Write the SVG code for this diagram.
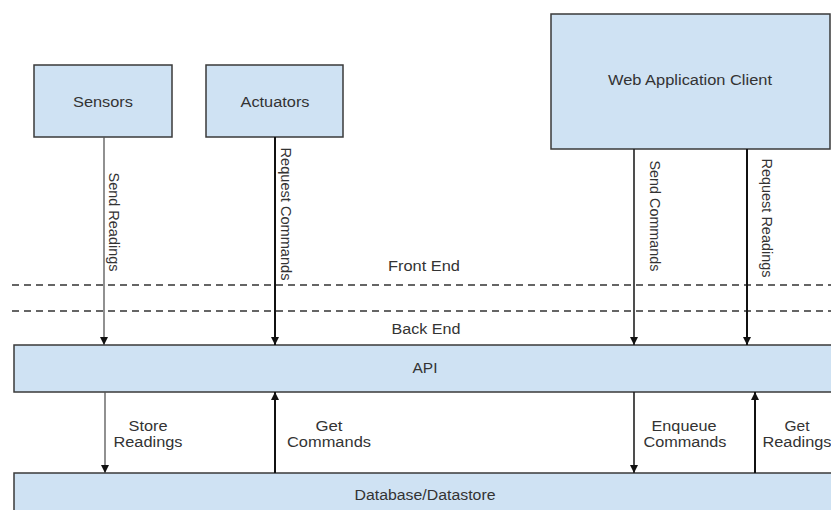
<svg xmlns="http://www.w3.org/2000/svg" width="831" height="510" viewBox="0 0 831 510">
<style>
.box{fill:#cfe2f3;stroke:#3a3a3a;stroke-width:1.5}
.t{font-family:"Liberation Sans",Arial,sans-serif;font-size:14px;fill:#333}
.c{text-anchor:middle}
.thin{stroke:#555;stroke-width:1.3;fill:none}
.thick{stroke:#111;stroke-width:2;fill:none}
.dash{stroke:#333;stroke-width:1.5;stroke-dasharray:7 5;fill:none}
</style>
<defs>
<marker id="ah" viewBox="0 0 8 8" refX="8" refY="4" markerWidth="8" markerHeight="8" markerUnits="userSpaceOnUse" orient="auto">
<path d="M0,0 L8,4 L0,8 z" fill="#111"/>
</marker>
</defs>
<rect width="831" height="510" fill="#fff"/>
<g id="sensors"><rect class="box" x="34" y="65" width="138" height="72"/><text class="t c" x="103" y="107" textLength="60" lengthAdjust="spacingAndGlyphs">Sensors</text></g>
<g id="actuators"><rect class="box" x="206" y="65" width="137" height="72"/><text class="t c" x="275" y="107" textLength="69" lengthAdjust="spacingAndGlyphs">Actuators</text></g>
<g id="webclient"><rect class="box" x="551" y="14" width="279" height="135"/><text class="t c" x="690" y="85" textLength="164" lengthAdjust="spacingAndGlyphs">Web Application Client</text></g>
<g id="boundary">
<line class="dash" x1="12" y1="285" x2="831" y2="285"/>
<line class="dash" x1="12" y1="311" x2="831" y2="311"/>
<text class="t c" x="424" y="271" textLength="72" lengthAdjust="spacingAndGlyphs">Front End</text>
<text class="t c" x="426" y="334" textLength="69" lengthAdjust="spacingAndGlyphs">Back End</text>
</g>
<g id="api"><rect class="box" x="14" y="345" width="830" height="47"/><text class="t c" x="425" y="373" textLength="25" lengthAdjust="spacingAndGlyphs">API</text></g>
<g id="database"><rect class="box" x="14" y="473" width="830" height="50"/><text class="t c" x="425" y="500" textLength="141" lengthAdjust="spacingAndGlyphs">Database/Datastore</text></g>
<g id="connectors">
<line class="thin" x1="104" y1="137" x2="104" y2="345" marker-end="url(#ah)"/>
<line class="thick" x1="275" y1="137" x2="275" y2="345" marker-end="url(#ah)"/>
<line class="thin" x1="634" y1="149" x2="634" y2="345" marker-end="url(#ah)" style="stroke:#222;stroke-width:1.6"/>
<line class="thick" x1="747" y1="149" x2="747" y2="345" marker-end="url(#ah)"/>
<line class="thin" x1="105" y1="392" x2="105" y2="473" marker-end="url(#ah)"/>
<line class="thick" x1="275" y1="473" x2="275" y2="392" marker-end="url(#ah)"/>
<line class="thin" x1="634" y1="392" x2="634" y2="473" marker-end="url(#ah)" style="stroke:#222;stroke-width:1.6"/>
<line class="thick" x1="755" y1="473" x2="755" y2="392" marker-end="url(#ah)"/>
<text class="t c" transform="translate(109,222) rotate(90)" textLength="99" lengthAdjust="spacingAndGlyphs">Send Readings</text>
<text class="t c" transform="translate(281,214) rotate(90)" textLength="133" lengthAdjust="spacingAndGlyphs">Request Commands</text>
<text class="t c" transform="translate(650,216) rotate(90)" textLength="111" lengthAdjust="spacingAndGlyphs">Send Commands</text>
<text class="t c" transform="translate(762,218) rotate(90)" textLength="119" lengthAdjust="spacingAndGlyphs">Request Readings</text>
<text class="t c" x="148" y="431" textLength="39" lengthAdjust="spacingAndGlyphs">Store</text>
<text class="t c" x="148" y="447" textLength="69" lengthAdjust="spacingAndGlyphs">Readings</text>
<text class="t c" x="329" y="431" textLength="27" lengthAdjust="spacingAndGlyphs">Get</text>
<text class="t c" x="329" y="447" textLength="84" lengthAdjust="spacingAndGlyphs">Commands</text>
<text class="t c" x="684" y="431" textLength="65" lengthAdjust="spacingAndGlyphs">Enqueue</text>
<text class="t c" x="685" y="447" textLength="83" lengthAdjust="spacingAndGlyphs">Commands</text>
<text class="t c" x="797" y="431" textLength="25" lengthAdjust="spacingAndGlyphs">Get</text>
<text class="t c" x="797" y="447" textLength="69" lengthAdjust="spacingAndGlyphs">Readings</text>
</g>
</svg>
